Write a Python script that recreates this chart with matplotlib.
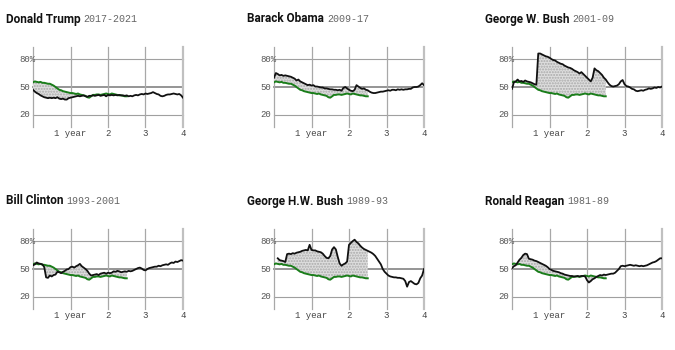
import numpy as np
import matplotlib
matplotlib.use("Agg")
import matplotlib.pyplot as plt
import matplotlib.transforms as mtransforms

# ---------------- data ----------------
names = ["Donald Trump", "Barack Obama", "George W. Bush",
         "Bill Clinton", "George H.W. Bush", "Ronald Reagan"]
terms = ["2017-2021", "2009-17", "2001-09", "1993-2001", "1989-93", "1981-89"]

x_ticks = [1, 2, 3, 4]
x_tick_labels = ["1 year", "2", "3", "4"]
y_ticks = [20, 50, 80]
y_tick_labels = ["20", "50", "80%"]

# years since inauguration, 0.05 step
t_black = np.round(np.arange(0, 4.0001, 0.05), 2)
t_green = np.round(np.arange(0, 2.5001, 0.05), 2)

green = [55, 56, 55.5, 55, 55.5, 54.5, 54.5, 54, 53.5, 53.5,
         52.5, 51.5, 50, 48.5, 47, 46.5, 45.5, 45, 44.5, 44,
         43.5, 43.5, 43, 42.5, 43, 42, 41.5, 41, 40.5, 39,
         38.5, 40, 41.5, 41.5, 42, 42, 41.5, 42, 42.5, 43,
         42.5, 42, 43, 42.5, 42, 41.5, 41, 41, 40.5, 40, 40]

trump = [47, 45, 43.5, 42.5, 41, 40, 39, 38.5, 38, 38.5,
         38, 38.5, 38, 39, 37.5, 37, 37.5, 36.5, 36.5, 38,
         38.5, 39, 39.5, 40, 40.5, 40, 40.5, 41, 40, 39.5,
         40.5, 40.5, 41, 40.5, 41, 41.5, 40.5, 41, 41.5, 40,
         41.5, 41, 41.5, 41, 41.5, 41, 41.5, 41, 41, 40.5,
         41, 40, 40.5, 40, 41, 41.5, 41, 42, 42.5, 42,
         43, 42.5, 43, 43.5, 44.5, 43.5, 42.5, 42, 40.5, 40,
         40.5, 41.5, 42, 42, 42.5, 43, 42.5, 42, 42.5, 41, 38.5]

obama = [60, 65, 64, 62.5, 63, 62, 62.5, 62, 61.5, 61,
         60, 59, 57, 58, 56, 55, 54, 53, 52, 52.5,
         51.5, 52, 50.5, 50.5, 50, 49.5, 49.5, 48.5, 48.5, 48,
         47.5, 47.5, 47, 47, 46.5, 47, 46, 49, 50, 48.5,
         47, 46, 45.5, 47, 52, 50.5, 49, 48, 48.5, 47,
         46.5, 45, 44, 43.5, 43.5, 44, 44.5, 45, 45, 45.5,
         46, 46.5, 46, 47, 47, 46.5, 47.5, 47, 47.5, 47,
         47.5, 47.5, 48, 48, 49.5, 50, 50, 50.5, 52, 54, 52]

bush_w = [48, 55, 56, 58, 56, 56.5, 55.5, 57, 56, 55.5,
          55, 54, 53, 52.5, 86, 86, 85, 84, 83, 82.5,
          81.5, 80, 79, 78.5, 77, 76, 75, 74.5, 73, 72,
          71, 70.5, 69.5, 68, 67, 66, 64.5, 66, 64, 62,
          60, 58, 56, 60, 70, 68, 67, 65, 63, 60,
          58, 55, 52.5, 51, 50.5, 51, 51.5, 53, 56, 57.5,
          53, 51, 50.5, 49.5, 48, 47.5, 46, 45.5, 46, 46.5,
          46, 47, 47.5, 48.5, 48, 48.5, 49.5, 49, 50, 49.5, 50.5]

clinton = [54, 55, 57, 56, 55.5, 55, 52, 41, 40.5, 43,
           42, 43.5, 44, 47, 46.5, 45.5, 47, 48, 49.5, 50,
           52, 52.5, 51.5, 53, 54, 55.5, 53, 51.5, 50, 48,
           45, 43, 43.5, 44, 44.5, 43.5, 45, 45.5, 46, 45,
           46, 45.5, 46, 47.5, 47, 48, 47.5, 46.5, 47, 47.5,
           47, 48, 47.5, 48, 49, 50, 51, 51.5, 50.5, 49,
           48.5, 50, 51, 51.5, 52, 52.5, 52.5, 53.5, 53, 54,
           54.5, 55, 54.5, 56, 57, 56.5, 58, 57.5, 58.5, 59.5, 59]

bush_hw = [np.nan, np.nan, 61.5, 59.5, 59, 58.5, 57.5, 66, 66.5, 66,
           67, 66.5, 67.5, 68, 68.5, 69.5, 70, 70.5, 70, 76,
           70.5, 70, 70, 69, 68.5, 68, 66.5, 64, 62, 61.5,
           64, 71, 73.5, 71, 63, 56, 53.5, 55, 56, 58,
           76, 78, 80, 81.5, 79, 77.5, 75, 73, 71.5, 70.5,
           69.5, 68.5, 67.5, 66, 64, 61, 58, 55, 50, 47,
           45, 43, 42, 41.5, 41, 41, 40.5, 40.5, 40, 39.5,
           37, 31, 36, 37, 35.5, 34, 33.5, 35, 40, 43, 50]

reagan = [51, 53, 54, 57, 60, 62, 65, 66.5, 66, 61,
          60.5, 60, 59, 58.5, 57.5, 56.5, 55.5, 54.5, 53.5, 52,
          50, 49, 48, 47.5, 47, 46.5, 45.5, 45, 44, 43.5,
          43, 42.5, 42.5, 42, 42, 42.5, 42, 42.5, 42.5, 42,
          38, 35.5, 37, 39, 40, 41.5, 42.5, 43.5, 43, 44,
          43.5, 44, 44.5, 45, 45, 46, 48, 50, 53, 53.5,
          53, 53.5, 54, 54.5, 54, 53.5, 54, 53.5, 53, 53.5,
          53, 53.5, 54, 55, 56, 57, 57.5, 58.5, 60, 61.5, 61.5]

black_series = [trump, obama, bush_w, clinton, bush_hw, reagan]

# ---------------- layout ----------------
W, H = 675, 350
fig = plt.figure(figsize=(W / 100, H / 100), dpi=100)
fig.patch.set_facecolor("white")

col_left = [33, 274, 512]
row_top = [47, 229]
ax_w, ax_h = 150, 80

mono = "Liberation Mono"
green_c = "#1a7d1a"

renderer = fig.canvas.get_renderer()

for i in range(6):
    r, c = divmod(i, 3)
    left = col_left[c] / W
    bottom = 1 - (row_top[r] + ax_h) / H
    ax = fig.add_axes([left, bottom, ax_w / W, ax_h / H])
    ax.set_xlim(0, 4)
    ax.set_ylim(7, 93)
    ax.axis("off")

    # grid
    for yv in y_ticks:
        ax.plot([0, 4], [yv, yv], color="#8c8c8c" if yv == 50 else "#a0a0a0",
                lw=1.3 if yv == 50 else 0.8, zorder=1, clip_on=False)
    for xv in [0] + x_ticks:
        ax.plot([xv, xv], [7, 93], color="#c0c0c0" if xv == 4 else "#a8a8a8",
                lw=1.6 if xv == 4 else 0.9, zorder=1, clip_on=False)

    blk = np.array(black_series[i], dtype=float)
    grn = np.array(green, dtype=float)
    blk_on_g = blk[:len(t_green)]
    valid = ~np.isnan(blk_on_g)
    ax.fill_between(t_green, grn, blk_on_g, where=valid, interpolate=True,
                    facecolor="#dedede", edgecolor="#a9a9a9", hatch="......",
                    linewidth=0, zorder=2)
    ax.plot(t_green, grn, color=green_c, lw=1.4, zorder=3)
    ax.plot(t_black, blk, color="#111111", lw=1.3, zorder=4)

    # y tick labels
    off_y = mtransforms.offset_copy(ax.transData, fig=fig, x=-14, y=0, units="dots")
    for yv, lab in zip(y_ticks, y_tick_labels):
        ax.text(0, yv, lab, transform=off_y, ha="left", va="center",
                fontsize=6.5, family=mono, color="#555555")
    # x tick labels
    off_x = mtransforms.offset_copy(ax.transData, fig=fig, x=0, y=-2, units="dots")
    for xv, lab in zip(x_ticks, x_tick_labels):
        ax.text(xv, 7, lab, transform=off_x, ha="center", va="top",
                fontsize=6.5, family=mono, color="#444444")

    # title
    tx = (col_left[c] - 27) / W
    ty = 1 - (row_top[r] - 28) / H
    t1 = fig.text(tx, ty, names[i], ha="left", va="center", fontsize=8.5,
                  fontweight="bold", family="Roboto", color="#111111")
    bb = t1.get_window_extent(renderer=renderer)
    fig.text((bb.x1 + 3) / W, ty, terms[i], ha="left", va="center",
             fontsize=7.2, family=mono, color="#666666")

fig.savefig("out.png", dpi=100, facecolor="white")
